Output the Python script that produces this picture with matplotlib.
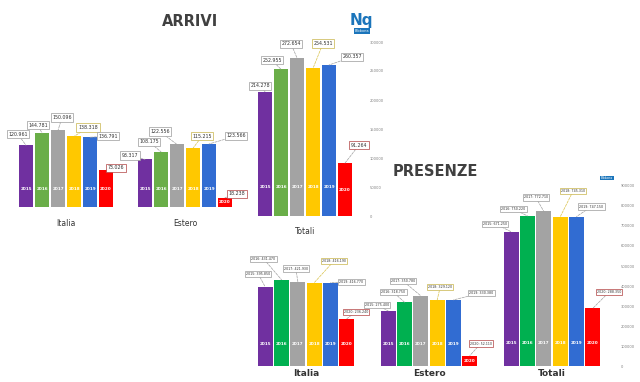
import matplotlib
matplotlib.use("Agg")
import matplotlib.pyplot as plt
from matplotlib.ticker import FixedLocator, FuncFormatter

# dati
anni = ['2015', '2016', '2017', '2018', '2019', '2020']
arrivi_italia = [120961, 144781, 150096, 138318, 136791, 73026]
arrivi_estero = [93317, 108175, 122556, 115215, 123566, 18238]
arrivi_totali = [214278, 252955, 272654, 254531, 260357, 91264]
presenze_italia = [395850, 431470, 421930, 416190, 416770, 236240]
presenze_estero = [275400, 318750, 350780, 329120, 330380, 52110]
presenze_totali = [671250, 750220, 772710, 745310, 747150, 288350]

col_arrivi = ['#7030A0', '#6AAE48', '#A3A3A3', '#FFC800', '#316CD2', '#FF0000']
col_presenze = ['#7030A0', '#00B050', '#A3A3A3', '#FFC800', '#316CD2', '#FF0000']

W, H = 640, 382
fig = plt.figure(figsize=(6.4, 3.82), dpi=100)
fig.patch.set_facecolor('white')
PT = 0.72  # punti per pixel


def pannello(left, bottom, slot, scala, valori, colori, etichette, offsets,
             titolo, fs_lab, yoff_anno, asse=None, top=8, fs_tit=6.5,
             peso='normal', tit_off=16):
    ax = fig.add_axes([left / W, 1 - bottom / H, 6 * slot / W, (bottom - top) / H])
    ax.patch.set_visible(False)
    x = range(len(valori))
    ax.bar(x, valori, width=0.93, color=colori, edgecolor='none')
    ax.set_xlim(-0.5, 5.5)
    for s in ax.spines.values():
        s.set_visible(False)
    ax.set_xticks([])
    if asse is None:
        ax.set_yticks([])
    else:
        passo, massimo, pad = asse
        ax.yaxis.tick_right()
        ax.yaxis.set_major_locator(FixedLocator(range(0, massimo + 1, passo)))
        ax.yaxis.set_major_formatter(FuncFormatter(lambda v, p: '%d' % v))
        ax.tick_params(axis='y', length=0, labelsize=2.6, labelcolor='#808080',
                       pad=pad)
    ax.set_ylim(0, (bottom - top) / scala * 1000)
    for i, v in enumerate(valori):
        # barre basse: anno al centro della barra
        hpx = v * scala / 1000
        yo = min(yoff_anno, hpx / 2)
        ax.annotate(anni[i], xy=(i, 0), xytext=(0, yo * PT),
                    textcoords='offset points', ha='center', va='center',
                    fontsize=3.0, color='white', fontweight='bold')
        dx, dy = offsets[i]
        ec = '#C8B44A' if i == 3 else ('#B04040' if i == 5 else '#9A9A9A')
        lc = '#D9C24A' if i == 3 else '#A0A0A0'
        ax.annotate(etichette[i], xy=(i, v), xytext=(dx * PT, dy * PT),
                    textcoords='offset points', ha='center', va='center',
                    fontsize=fs_lab, color='#333333', annotation_clip=False,
                    bbox=dict(boxstyle='square,pad=0.35', fc='white', ec=ec, lw=0.5),
                    arrowprops=dict(arrowstyle='-', color=lc, lw=0.5, ls='--',
                                    shrinkA=0, shrinkB=0))
    ax.annotate(titolo, xy=(2.5, 0), xytext=(0, -tit_off * PT),
                textcoords='offset points', ha='center', va='center',
                fontsize=fs_tit, color='#333333', fontweight=peso,
                annotation_clip=False)
    return ax


def fmt(v):
    return '{:,}'.format(v).replace(',', '.')


# ARRIVI
lab = [fmt(v) for v in arrivi_italia]
pannello(18, 207, 16, 0.51, arrivi_italia, col_arrivi, lab,
         [(-8, 11), (-4, 8), (4, 13), (14, 9), (18, 1), (10, 2)],
         'Italia', 3.4, 18, fs_tit=5.5, tit_off=16)
lab = [fmt(v) for v in arrivi_estero]
pannello(137, 207, 16, 0.51, arrivi_estero, col_arrivi, lab,
         [(-15, 4), (-12, 10), (-17, 13), (9, 12), (27, 8), (12, 4)],
         'Estero', 3.4, 18, fs_tit=5.5, tit_off=16)
lab = [fmt(v) for v in arrivi_totali]
pannello(257, 216, 16, 0.58, arrivi_totali, col_arrivi, lab,
         [(-5, 6), (-9, 9), (-6, 14), (10, 25), (23, 8), (14, 18)],
         'Totali', 3.4, 29, asse=(50000, 300000, 12), fs_tit=5.5, tit_off=15)

# PRESENZE
lab = [a + ': ' + fmt(v) for a, v in zip(anni, presenze_italia)]
pannello(257, 366, 16.33, 0.2, presenze_italia, col_presenze, lab,
         [(-7, 13), (-18, 21), (-2, 13), (20, 22), (21, 1), (9, 7)],
         'Italia', 2.3, 22, fs_tit=6.5, peso='bold', tit_off=7)
lab = [a + ': ' + fmt(v) for a, v in zip(anni, presenze_estero)]
pannello(380, 366, 16.33, 0.2, presenze_estero, col_presenze, lab,
         [(-11, 6), (-11, 10), (-18, 15), (3, 13), (28, 7), (11, 12)],
         'Estero', 2.3, 22, fs_tit=6.5, peso='bold', tit_off=7)
lab = [a + ': ' + fmt(v) for a, v in zip(anni, presenze_totali)]
pannello(503, 366, 16.33, 0.2, presenze_totali, col_presenze, lab,
         [(-16, 8), (-14, 7), (-8, 14), (13, 26), (15, 10), (16, 16)],
         'Totali', 2.3, 23, asse=(100000, 900000, 14), fs_tit=6.5,
         peso='bold', tit_off=8)

# titoli
fig.text(190 / W, 1 - 22 / H, 'ARRIVI', ha='center', va='center',
         fontsize=10.5, fontweight='bold', color='#404040')
fig.text(435 / W, 1 - 172 / H, 'PRESENZE', ha='center', va='center',
         fontsize=10.5, fontweight='bold', color='#404040')

# loghi
fig.text(361 / W, 1 - 20 / H, 'Nq', ha='center', va='center', fontsize=11,
         fontweight='bold', color='#1B75BB')
fig.text(362 / W, 1 - 31 / H, 'Bibbona', ha='center', va='center',
         fontsize=2.5, color='white',
         bbox=dict(boxstyle='square,pad=0.2', fc='#1B75BB', ec='none'))
fig.text(607 / W, 1 - 178 / H, 'Bibbona', ha='center', va='center',
         fontsize=2.2, color='white',
         bbox=dict(boxstyle='square,pad=0.15', fc='#1B75BB', ec='none'))

fig.savefig('out.png', dpi=100, facecolor='white')
